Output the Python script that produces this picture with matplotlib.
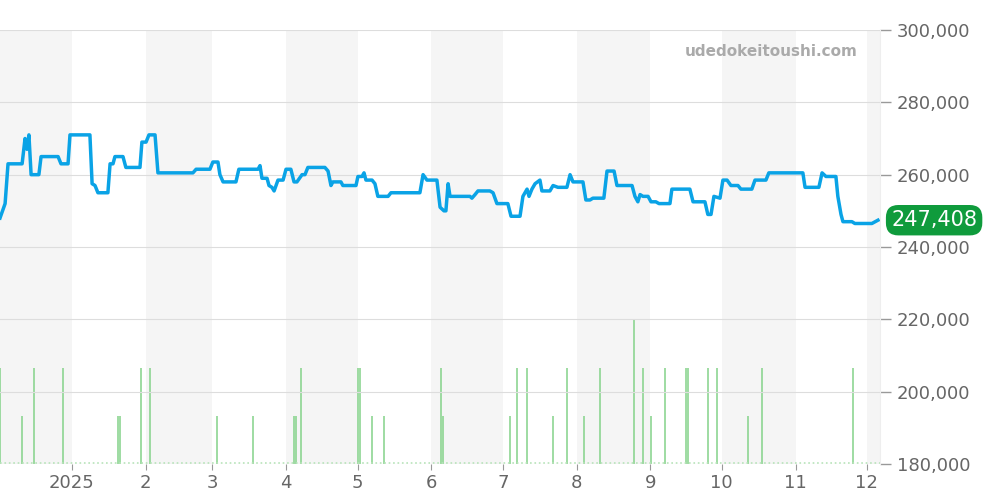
import matplotlib
matplotlib.use("Agg")
import matplotlib.pyplot as plt
import numpy as np
import pandas as pd

# price line: day offsets and prices
price_day = [0, 2.1, 3.3, 9.1, 10.3, 11.1, 11.9, 12.8, 16.0, 16.9, 23.9, 25.1, 28.0, 28.8, 37.0, 37.9,
             39.1, 40.3, 44.4, 45.3, 46.5, 47.3, 50.6, 51.8, 57.6, 58.4, 60.1, 61.3, 63.8, 65.0, 79.4,
             80.7, 86.4, 87.6, 89.7, 90.5, 91.8, 97.1, 98.3, 106.2, 107.0, 107.8, 109.9, 110.7, 111.9,
             112.8, 114.4, 116.5, 117.7, 119.7, 121.0, 122.2, 124.3, 125.5, 126.7, 133.7, 135.0, 136.2,
             137.0, 140.3, 141.1, 146.5, 147.3, 149.0, 149.8, 150.6, 153.1, 154.3, 155.5, 159.7, 160.9,
             172.8, 174.1, 175.7, 179.8, 181.1, 182.7, 183.5, 184.4, 185.2, 193.4, 194.2, 195.5, 196.7,
             201.6, 202.9, 204.5, 209.0, 210.3, 214.0, 215.2, 216.9, 217.7, 218.9, 220.2, 222.2, 223.0,
             226.3, 227.6, 229.6, 233.3, 234.6, 235.8, 239.9, 241.1, 242.8, 244.0, 248.5, 249.8, 252.7,
             253.9, 260.1, 261.3, 262.5, 263.4, 264.6, 266.7, 267.9, 269.9, 271.2, 275.7, 276.5, 283.9,
             285.2, 290.1, 291.3, 292.6, 293.8, 296.3, 297.5, 299.2, 300.8, 303.7, 304.9, 309.4, 310.7,
             315.2, 316.4, 318.1, 330.4, 331.3, 337.0, 338.3, 339.9, 344.0, 344.8, 346.1, 346.9, 350.6,
             351.8, 358.8, 361.3]
price = [248, 252, 263, 263, 270, 267, 271, 260, 260, 265, 265, 263, 263, 271, 271, 257.5,
         257, 255, 255, 263, 263, 265, 265, 262, 262, 269, 269, 271, 271, 260.5, 260.5,
         261.5, 261.5, 263.5, 263.5, 260, 258, 258, 261.5, 261.5, 262.5, 259, 259, 257, 256.5,
         255.5, 258.5, 258.5, 261.5, 261.5, 258, 258, 260, 260, 262, 262, 261, 257,
         258, 258, 257, 257, 259.5, 259.5, 260.5, 258.5, 258.5, 257.5, 254, 254, 255,
         255, 260, 258.5, 258.5, 251, 250, 250, 257.5, 254, 254, 253.5, 254.5, 255.5,
         255.5, 255, 252, 252, 248.5, 248.5, 254, 256, 254, 256, 257.5, 258.5, 255.5,
         255.5, 257, 256.5, 256.5, 260, 258, 258, 253, 253, 253.5, 253.5, 261, 261,
         257, 257, 254, 252.5, 254.5, 254, 254, 252.5, 252.5, 252, 252, 256, 256,
         252.5, 252.5, 249, 249, 254, 253.5, 258.5, 258.5, 257, 257, 256, 256, 258.5,
         258.5, 260.5, 260.5, 260.5, 256.5, 256.5, 260.5, 259.5, 259.5, 254, 249, 247, 247,
         246.5, 246.5, 247.408]

# sales count bars
vol_day = [0, 9.1, 14.0, 25.9, 48.6, 49.4, 58.0, 61.7, 89.3, 104.1, 121.0, 121.8, 123.9, 147.3, 148.1,
           153.1, 158.0, 181.5, 182.3, 209.9, 212.7, 216.9, 227.6, 233.3, 240.3, 246.9, 260.9, 264.6,
           267.9, 273.6, 282.3, 283.1, 291.3, 295.0, 307.8, 313.6, 351.0]
vol = [2, 1, 2, 2, 1, 1, 2, 2, 1, 1, 1, 1, 2, 2, 2, 1, 1, 2, 1, 1, 2, 2, 1, 2, 1, 2, 3, 2, 1, 2, 2, 2,
       2, 2, 1, 2, 2]

start = pd.Timestamp("2024-12-01 18:00")
scale = 1.021  # reading scale correction
px = start + pd.to_timedelta(np.array(price_day) * scale, unit="D")
vx = start + pd.to_timedelta(np.array(vol_day) * scale, unit="D")
py = np.array(price) * 1000
end = pd.Timestamp("2025-12-06 12:00")

grey = "#666666"
fig = plt.figure(figsize=(10, 5), dpi=100)
ax = fig.add_axes([0.0, 0.072, 0.88, 0.868])
ax2 = ax.twinx()
ax2.set_zorder(1)
ax.set_zorder(2)
ax.patch.set_visible(False)

# alternating month shading (on the back axes)
months = pd.date_range("2024-12-01", "2026-01-01", freq="MS")
for i in range(len(months) - 1):
    if i % 2 == 0:
        ax2.axvspan(months[i], months[i + 1], color="#f5f5f5", zorder=0, lw=0)

ax2.bar(vx, vol, width=0.8, color="#8fd694", alpha=0.85, zorder=2)
ax2.axhline(0.03, color="#b7e4b9", lw=1.2, ls=":", zorder=2)
ax2.set_ylim(0, 9.04)
ax2.set_yticks([])
for s in ax2.spines.values():
    s.set_visible(False)

ax.set_ylim(180000, 300000)
ax.set_xlim(start, end)
ax2.set_xlim(start, end)
ax.yaxis.tick_right()
ax.set_yticks(np.arange(180000, 300001, 20000))
ax.set_yticklabels([f"{v:,}" for v in range(180000, 300001, 20000)])
ax.grid(axis="y", color="#dddddd", lw=0.8)
ax.tick_params(axis="y", colors="#999999", labelcolor=grey, labelsize=13, length=8, width=1, pad=4)
ax.tick_params(axis="x", colors="#999999", labelcolor=grey, labelsize=13, length=4)
for s in ["top", "left", "bottom"]:
    ax.spines[s].set_visible(False)
ax.spines["right"].set_color("#eeeeee")
ticks = pd.date_range("2025-01-01", "2025-12-01", freq="MS")
ax.set_xticks(ticks)
ax.set_xticklabels(["2025"] + [str(m) for m in range(2, 13)])

ax.plot(px, py, color="#0aa3e6", lw=2.5, zorder=3, solid_joinstyle="round")

ax.text(0.975, 0.95, "udedokeitoushi.com", transform=ax.transAxes, ha="right", va="center",
        fontsize=11, fontweight="bold", color="#aaaaaa")
ax.annotate(f"{int(round(py[-1])):,}", xy=(1.0, py[-1]), xycoords=("axes fraction", "data"),
            xytext=(8, 0), textcoords="offset points", ha="left", va="center", fontsize=15,
            color="white", bbox=dict(boxstyle="round,pad=0.25,rounding_size=0.6", fc="#0f9b3c", ec="none"))

fig.savefig("out.png")
